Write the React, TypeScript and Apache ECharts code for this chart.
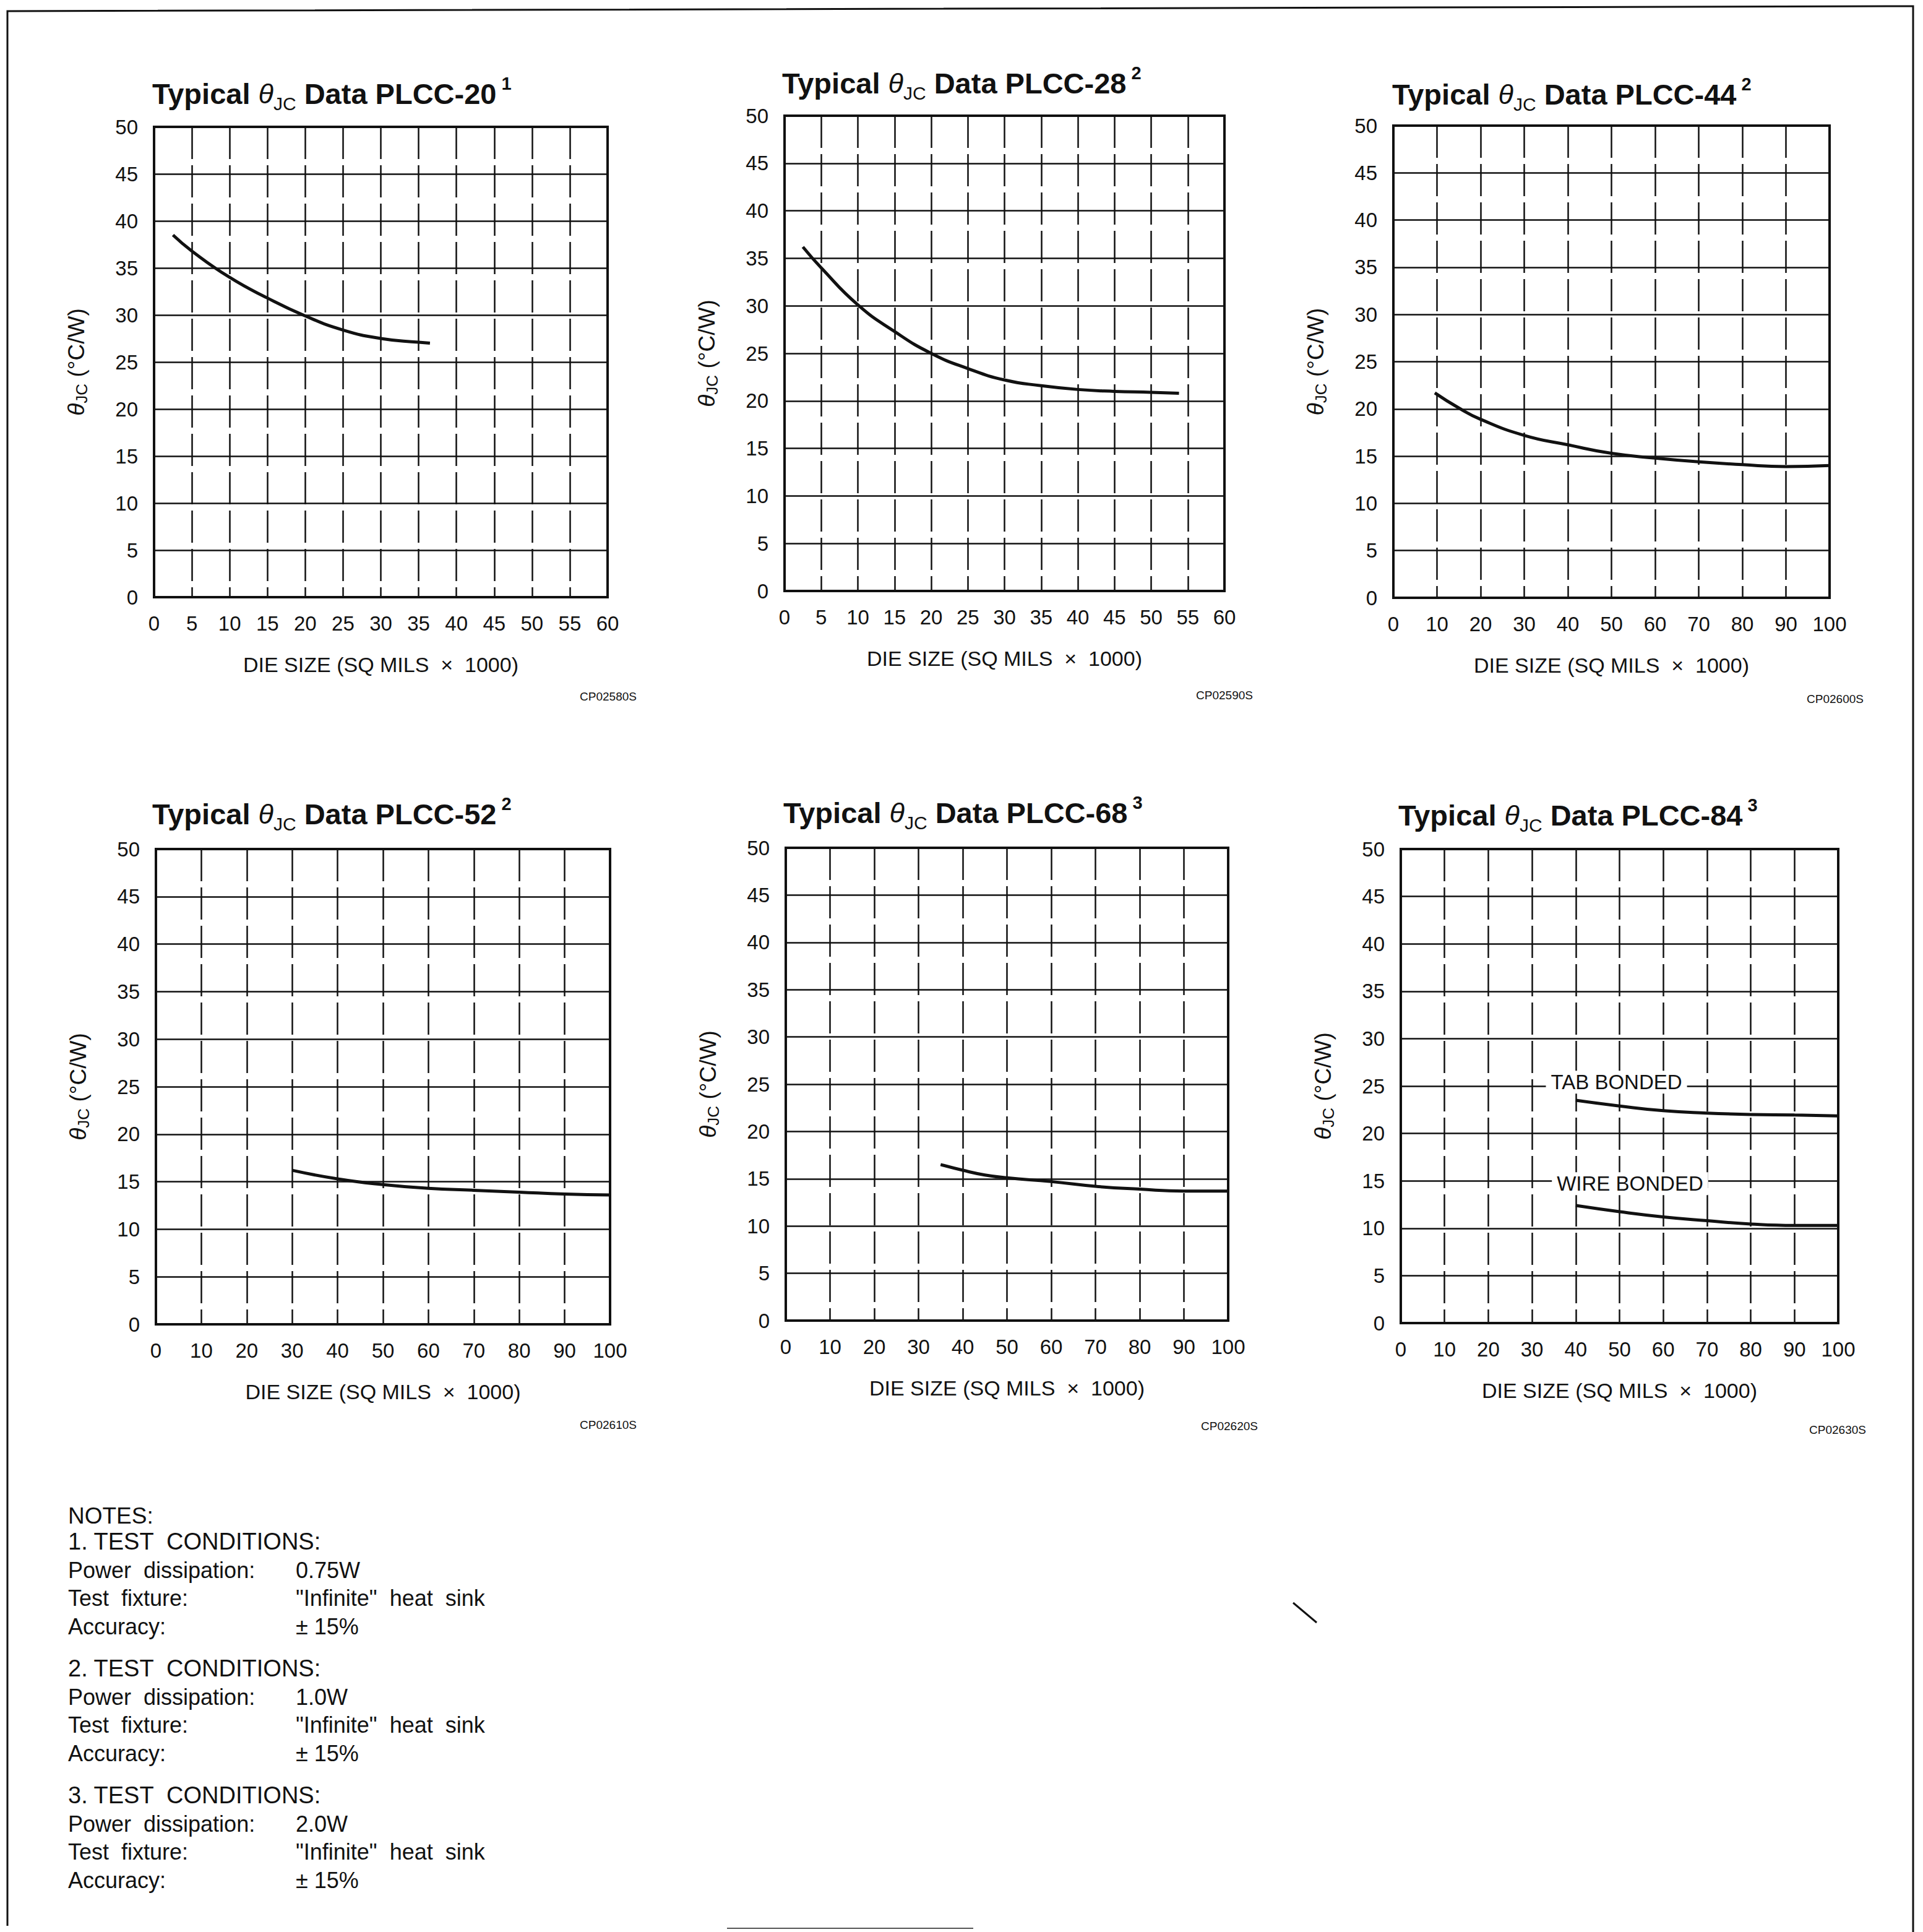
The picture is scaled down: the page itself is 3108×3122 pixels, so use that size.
import React, { useEffect, useRef } from "react";
import * as echarts from "echarts";

// ---------------- DATA ----------------
const packageNames = ["PLCC-20", "PLCC-28", "PLCC-44", "PLCC-52", "PLCC-68", "PLCC-84"];
const noteRefs = ["1", "2", "2", "2", "3", "3"];
const figureCodes = ["CP02580S", "CP02590S", "CP02600S", "CP02610S", "CP02620S", "CP02630S"];
const xMaxes = [60, 60, 100, 100, 100, 100];
const xIntervals = [5, 5, 10, 10, 10, 10];
const yMax = 50;
const yInterval = 5;
const xAxisName = "DIE SIZE (SQ MILS  ×  1000)";

const plcc20X = [2.5, 5, 10, 15, 20, 25, 30, 35, 36.5];
const plcc20Y = [38.5, 36.8, 34.0, 31.8, 29.9, 28.4, 27.5, 27.1, 27.0];

const plcc28X = [2.5, 5, 10, 15, 20, 25, 30, 35, 40, 45, 50, 53.8];
const plcc28Y = [36.2, 34.0, 30.1, 27.3, 25.0, 23.4, 22.2, 21.6, 21.2, 21.0, 20.9, 20.8];

const plcc44X = [9.5, 15, 20, 30, 40, 50, 60, 70, 80, 90, 100];
const plcc44Y = [21.7, 20.1, 18.9, 17.2, 16.2, 15.3, 14.8, 14.4, 14.1, 13.9, 14.0];

const plcc52X = [30, 40, 50, 60, 70, 80, 90, 100];
const plcc52Y = [16.2, 15.3, 14.7, 14.3, 14.1, 13.9, 13.7, 13.6];

const plcc68X = [35, 40, 45, 50, 60, 70, 80, 90, 100];
const plcc68Y = [16.5, 15.9, 15.4, 15.1, 14.7, 14.2, 13.9, 13.7, 13.7];

const plcc84X = [40, 50, 60, 70, 80, 90, 100];
const plcc84TabY = [23.5, 22.9, 22.4, 22.15, 22.0, 21.95, 21.85];
const plcc84WireY = [12.4, 11.75, 11.2, 10.8, 10.45, 10.3, 10.3];
const tabLabelAt = [49.3, 25.4];
const wireLabelAt = [52.4, 14.7];

const noteHeading = "NOTES:";
const noteBlockTitles = ["1. TEST  CONDITIONS:", "2. TEST  CONDITIONS:", "3. TEST  CONDITIONS:"];
const notePowers = ["0.75W", "1.0W", "2.0W"];
const noteFixture = "\"Infinite\"  heat  sink";
const noteAccuracy = "± 15%";
const noteLabels = ["Power  dissipation:", "Test  fixture:", "Accuracy:"];

// ---------------- LAYOUT ----------------
const FONT = '"Liberation Sans", Arial, Helvetica, sans-serif';
const INK = "#111";

const grids = [
  { left: 249, top: 205, width: 733, height: 760 },
  { left: 1268, top: 187, width: 711, height: 768 },
  { left: 2252, top: 203, width: 705, height: 763 },
  { left: 252, top: 1372, width: 734, height: 768 },
  { left: 1270, top: 1370, width: 715, height: 764 },
  { left: 2264, top: 1372, width: 707, height: 766 },
];
const titlePos = [
  [246, 120],
  [1264, 103],
  [2250, 121],
  [246, 1284],
  [1266, 1282],
  [2260, 1286],
];
const codePos = [
  [1029, 1125],
  [2025, 1123],
  [3012, 1129],
  [1029, 2302],
  [2033, 2304],
  [3016, 2310],
];

const zip = (xs: number[], ys: number[]) => xs.map((x, i) => [x, ys[i]]);

const curves = [
  { g: 0, x: plcc20X, y: plcc20Y },
  { g: 1, x: plcc28X, y: plcc28Y },
  { g: 2, x: plcc44X, y: plcc44Y },
  { g: 3, x: plcc52X, y: plcc52Y },
  { g: 4, x: plcc68X, y: plcc68Y },
  { g: 5, x: plcc84X, y: plcc84TabY, label: "TAB BONDED", at: tabLabelAt },
  { g: 5, x: plcc84X, y: plcc84WireY, label: "WIRE BONDED", at: wireLabelAt },
];

function buildOption() {
  const titles = packageNames.map((p, i) => ({
    text: `{a|Typical }{th|θ}{sub|JC}{a| Data ${p}}{sup| ${noteRefs[i]}}`,
    left: titlePos[i][0],
    top: titlePos[i][1],
    padding: 0,
    textStyle: {
      rich: {
        a: { fontSize: 47, fontWeight: "bold", fontFamily: FONT, color: INK, lineHeight: 62 },
        th: { fontSize: 45, fontWeight: "normal", fontFamily: FONT, fontStyle: "italic", color: INK, lineHeight: 62 },
        sub: { fontSize: 30, fontWeight: "normal", fontFamily: FONT, color: INK, lineHeight: 30, verticalAlign: "bottom" },
        sup: { fontSize: 29, fontFamily: FONT, fontWeight: "bold", color: INK, lineHeight: 29, verticalAlign: "top" },
      },
    },
  }));

  const gridOpts = grids.map((g) => ({
    ...g,
    show: true,
    borderColor: INK,
    borderWidth: 4,
    backgroundColor: "#fff",
    containLabel: false,
  }));

  const xAxes = grids.map((_, i) => ({
    type: "value",
    gridIndex: i,
    min: 0,
    max: xMaxes[i],
    interval: xIntervals[i],
    axisLine: { show: false },
    axisTick: { show: false },
    axisLabel: { fontSize: 33, color: INK, fontFamily: FONT, margin: 26 },
    splitLine: { show: true, lineStyle: { color: INK, width: 2.5, type: [52, 10] } },
    name: xAxisName,
    nameLocation: "middle",
    nameGap: 92,
    nameTextStyle: { fontSize: 34, color: INK, fontFamily: FONT },
  }));

  const yAxes = grids.map((_, i) => ({
    type: "value",
    gridIndex: i,
    min: 0,
    max: yMax,
    interval: yInterval,
    axisLine: { show: false },
    axisTick: { show: false },
    axisLabel: { fontSize: 33, color: INK, fontFamily: FONT, margin: 26 },
    splitLine: { show: true, lineStyle: { color: INK, width: 2.5 } },
    name: "{th|θ}{sub|JC}{n| (°C/W)}",
    nameLocation: "middle",
    nameGap: 104,
    nameTextStyle: {
      rich: {
        th: { fontSize: 37, fontFamily: FONT, fontStyle: "italic", color: INK, lineHeight: 44 },
        sub: { fontSize: 26, fontFamily: FONT, color: INK, lineHeight: 26, verticalAlign: "bottom" },
        n: { fontSize: 37, fontFamily: FONT, color: INK, lineHeight: 44 },
      },
    },
  }));

  const series = curves.map((c) => {
    const s: any = {
      type: "line",
      xAxisIndex: c.g,
      yAxisIndex: c.g,
      data: zip(c.x, c.y),
      smooth: 0.5,
      showSymbol: false,
      symbol: "none",
      silent: true,
      lineStyle: { color: INK, width: 5 },
      z: 5,
    };
    if (c.label) {
      s.markPoint = {
        symbol: "rect",
        symbolSize: 1,
        itemStyle: { color: "rgba(0,0,0,0)" },
        silent: true,
        label: {
          show: true,
          position: "inside",
          formatter: c.label,
          color: INK,
          fontSize: 33,
          fontFamily: FONT,
          backgroundColor: "#fff",
          padding: [2, 8],
        },
        data: [{ coord: c.at }],
      };
    }
    return s;
  });

  const graphics: any[] = [];
  // page frame
  graphics.push({
    type: "polyline",
    shape: { points: [[12, 3112], [12, 18], [3092, 10], [3092, 3122]] },
    style: { stroke: INK, lineWidth: 3, fill: "none" },
    silent: true,
  });
  graphics.push({
    type: "line",
    shape: { x1: 1175, y1: 3116, x2: 1573, y2: 3116 },
    style: { stroke: "#555", lineWidth: 2 },
    silent: true,
  });
  graphics.push({
    type: "line",
    shape: { x1: 2090, y1: 2590, x2: 2128, y2: 2622 },
    style: { stroke: INK, lineWidth: 3 },
    silent: true,
  });
  // figure codes
  figureCodes.forEach((code, i) => {
    graphics.push({
      type: "text",
      x: codePos[i][0],
      y: codePos[i][1],
      silent: true,
      style: {
        text: code,
        fontSize: 19,
        fontFamily: FONT,
        fill: INK,
        align: "right",
        verticalAlign: "middle",
      },
    });
  });
  // notes
  const noteX = 110;
  const valX = 478;
  const noteStyle = (t: string, size = 36) => ({
    text: t,
    fontSize: size,
    fontFamily: FONT,
    fill: INK,
    verticalAlign: "middle",
  });
  graphics.push({ type: "text", x: noteX, y: 2449, silent: true, style: noteStyle(noteHeading, 37) });
  noteBlockTitles.forEach((t, b) => {
    const y0 = 2491 + b * 205;
    graphics.push({ type: "text", x: noteX, y: y0, silent: true, style: noteStyle(t, 38) });
    const offs = [46, 91, 137];
    const vals = [notePowers[b], noteFixture, noteAccuracy];
    noteLabels.forEach((lab, k) => {
      graphics.push({ type: "text", x: noteX, y: y0 + offs[k], silent: true, style: noteStyle(lab) });
      graphics.push({ type: "text", x: valX, y: y0 + offs[k], silent: true, style: noteStyle(vals[k]) });
    });
  });

  return {
    animation: false,
    backgroundColor: "#fff",
    title: titles,
    grid: gridOpts,
    xAxis: xAxes,
    yAxis: yAxes,
    series,
    graphic: graphics,
  };
}

export default function App() {
  const ref = useRef<HTMLDivElement>(null);
  useEffect(() => {
    if (!ref.current) return;
    const chart = echarts.init(ref.current, null, { renderer: "svg" });
    chart.setOption(buildOption() as any);
    return () => chart.dispose();
  }, []);
  return (
    <div
      ref={ref}
      style={{ position: "absolute", left: 0, top: 0, width: 3108, height: 3122, background: "#fff" }}
    />
  );
}
